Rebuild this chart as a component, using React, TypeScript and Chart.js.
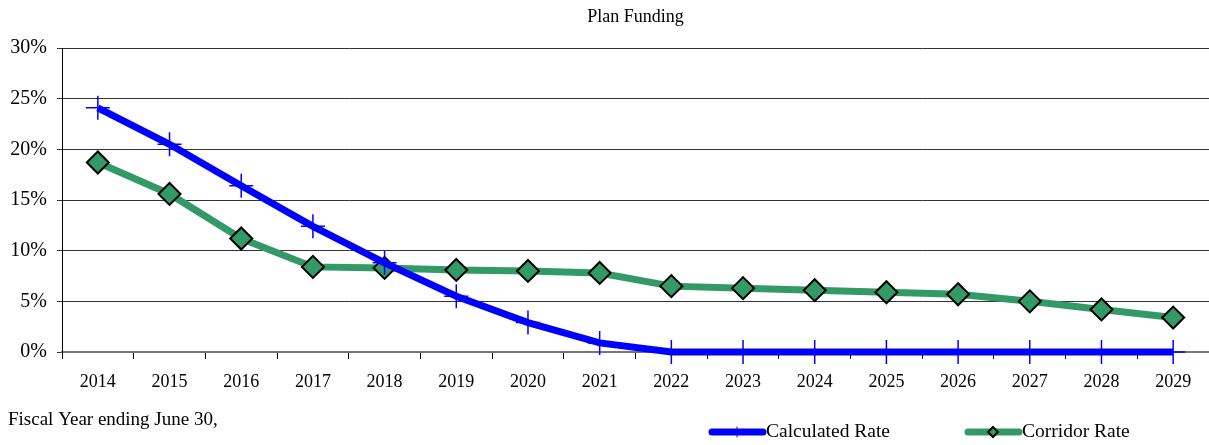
import React, { useEffect, useRef } from "react";
import { Chart, registerables } from "chart.js";

Chart.register(...registerables);

const years = ["2014", "2015", "2016", "2017", "2018", "2019", "2020", "2021", "2022", "2023", "2024", "2025", "2026", "2027", "2028", "2029"];
const calculatedRate = [24.1, 20.5, 16.4, 12.4, 8.8, 5.5, 2.9, 0.9, 0, 0, 0, 0, 0, 0, 0, 0];
const corridorRate = [18.7, 15.6, 11.2, 8.4, 8.3, 8.1, 8.0, 7.8, 6.5, 6.3, 6.1, 5.9, 5.7, 5.0, 4.2, 3.4];
const yTicks = [0, 5, 10, 15, 20, 25, 30];

const FONT = "'Liberation Serif', 'Times New Roman', serif";
const BLUE = "#0000ff";
const GREEN = "#339966";

export default function App() {
  const ref = useRef<HTMLCanvasElement | null>(null);

  useEffect(() => {
    if (!ref.current) return;
    const overlay = {
      id: "overlay",
      afterDraw(chart: any) {
        const ctx = chart.ctx as CanvasRenderingContext2D;
        const area = chart.chartArea;
        ctx.save();
        ctx.fillStyle = "#000";
        ctx.font = `18px ${FONT}`;
        ctx.textAlign = "center";
        ctx.textBaseline = "middle";
        ctx.fillText("Plan Funding", (area.left + area.right) / 2, 17);
        ctx.textAlign = "left";
        ctx.font = `19px ${FONT}`;
        ctx.fillText("Fiscal Year ending June 30,", 8, 420);

        // legend
        const ly = 432;
        ctx.lineCap = "round";
        ctx.lineWidth = 7;
        ctx.strokeStyle = BLUE;
        ctx.beginPath();
        ctx.moveTo(712, ly);
        ctx.lineTo(763, ly);
        ctx.stroke();
        ctx.lineWidth = 1;
        ctx.beginPath();
        ctx.moveTo(737, ly - 5);
        ctx.lineTo(737, ly + 5);
        ctx.stroke();
        ctx.lineWidth = 7;
        ctx.strokeStyle = GREEN;
        ctx.beginPath();
        ctx.moveTo(968, ly);
        ctx.lineTo(1019, ly);
        ctx.stroke();
        ctx.lineCap = "butt";
        ctx.fillStyle = GREEN;
        ctx.strokeStyle = "#000";
        ctx.lineWidth = 2;
        ctx.beginPath();
        ctx.moveTo(993, ly - 5);
        ctx.lineTo(998, ly);
        ctx.lineTo(993, ly + 5);
        ctx.lineTo(988, ly);
        ctx.closePath();
        ctx.fill();
        ctx.stroke();
        ctx.fillStyle = "#000";
        ctx.font = `19.5px ${FONT}`;
        ctx.fillText("Calculated Rate", 766, ly);
        ctx.fillText("Corridor Rate", 1022, ly);
        ctx.restore();
      },
    };

    const chart = new Chart(ref.current, {
      type: "line",
      data: {
        labels: years,
        datasets: [
          {
            label: "Calculated Rate",
            data: calculatedRate,
            borderColor: BLUE,
            backgroundColor: BLUE,
            borderWidth: 7,
            pointStyle: "cross",
            pointRadius: 12,
            pointBorderWidth: 1.5,
            pointBorderColor: BLUE,
            tension: 0,
            clip: false as any,
          },
          {
            label: "Corridor Rate",
            data: corridorRate,
            borderColor: GREEN,
            backgroundColor: GREEN,
            borderWidth: 7,
            pointStyle: "rectRot",
            pointRadius: 11,
            pointBorderWidth: 2,
            pointBorderColor: "#000",
            pointBackgroundColor: GREEN,
            tension: 0,
            clip: false as any,
          },
        ],
      },
      options: {
        animation: false,
        responsive: false,
        layout: { autoPadding: false, padding: { top: 48, right: 0, left: 0, bottom: 0 } },
        plugins: {
          legend: { display: false },
          title: { display: false },
          tooltip: { enabled: false },
        },
        scales: {
          x: {
            offset: true,
            grid: {
              offset: true,
              drawOnChartArea: false,
              drawTicks: true,
              tickLength: 7,
              color: "#000",
            },
            border: { color: "#777", width: 2 },
            ticks: {
              color: "#000",
              font: { family: FONT, size: 18 },
              padding: 12,
              maxRotation: 0,
              autoSkip: false,
            },
            afterFit(scale: any) {
              scale.height = 93;
              scale.paddingLeft = 0;
              scale.paddingRight = 0;
            },
          },
          y: {
            min: 0,
            max: 30,
            afterBuildTicks(scale: any) {
              scale.ticks = yTicks.map((v) => ({ value: v }));
            },
            grid: {
              color: "#333",
              lineWidth: 1,
              tickLength: 5,
              drawTicks: true,
            },
            border: { color: "#000", width: 1 },
            ticks: {
              color: "#000",
              font: { family: FONT, size: 20 },
              padding: 10,
              callback: (v: any) => `${v}%`,
            },
            afterFit(scale: any) {
              scale.width = 62;
              scale.paddingTop = 0;
              scale.paddingBottom = 0;
            },
          },
        },
      },
      plugins: [overlay],
    });
    return () => chart.destroy();
  }, []);

  return (
    <div style={{ position: "fixed", left: 0, top: 0, width: 1209, height: 445, background: "#fff" }}>
      <canvas ref={ref} width={1209} height={445} style={{ display: "block" }} />
    </div>
  );
}
